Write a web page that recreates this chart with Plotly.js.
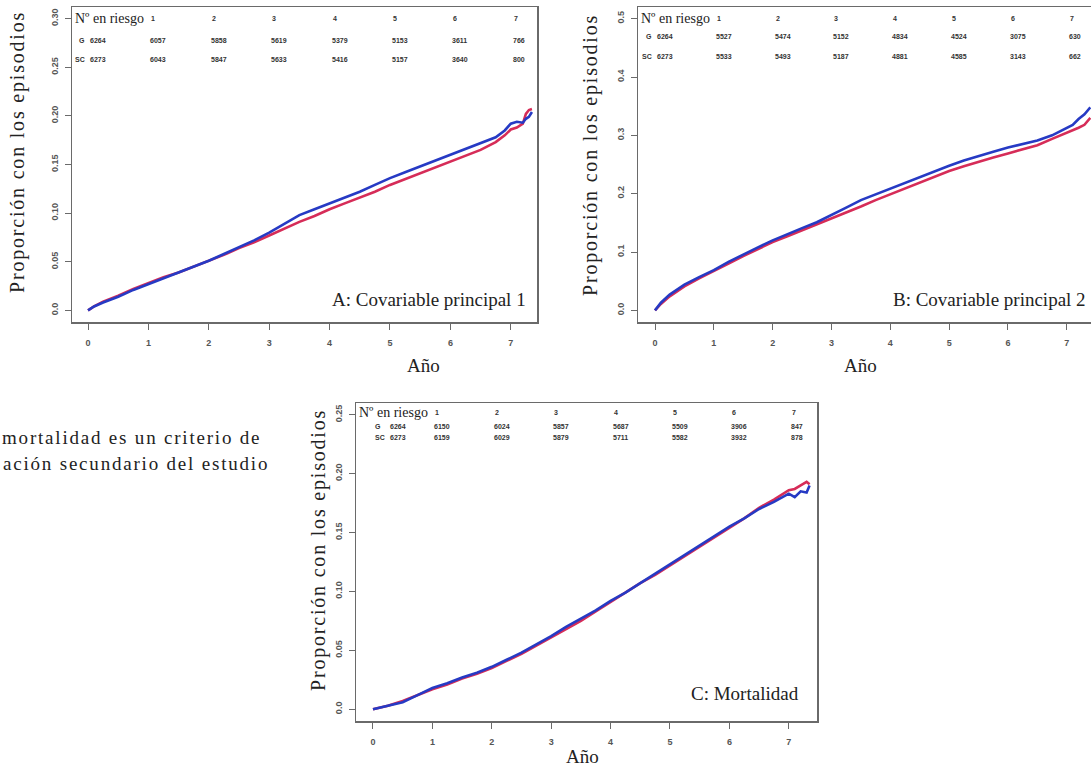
<!DOCTYPE html>
<html>
<head>
<meta charset="utf-8">
<script src="https://cdn.plot.ly/plotly-3.0.1.min.js"></script>
<style>
html,body{margin:0;padding:0;overflow:hidden;background:#fff;}
#plot{width:1112px;height:766px;}
text[style*=", serif"]{letter-spacing:1.8px;}
</style>
</head>
<body>
<div id="plot"></div>
<script>
// ---------- DATA ----------
const tA = [0,0.1,0.25,0.5,0.75,1,1.25,1.5,1.75,2,2.25,2.5,2.75,3,3.25,3.5,3.75,4,4.25,4.5,4.75,5,5.25,5.5,5.75,6,6.25,6.5,6.75,6.9,7.0,7.1,7.2,7.25,7.3,7.35];
const aBlue = [0,0.004,0.008,0.014,0.021,0.027,0.033,0.039,0.045,0.051,0.058,0.065,0.072,0.080,0.089,0.098,0.104,0.110,0.116,0.122,0.129,0.136,0.142,0.148,0.154,0.160,0.166,0.172,0.178,0.185,0.192,0.194,0.193,0.197,0.199,0.204];
const aRed  = [0,0.004,0.009,0.015,0.022,0.028,0.034,0.039,0.045,0.051,0.057,0.064,0.070,0.077,0.084,0.091,0.097,0.104,0.110,0.116,0.122,0.129,0.135,0.141,0.147,0.153,0.159,0.165,0.173,0.180,0.186,0.188,0.192,0.202,0.206,0.207];

const tB = [0,0.1,0.25,0.5,0.75,1,1.25,1.5,1.75,2,2.25,2.5,2.75,3,3.25,3.5,3.75,4,4.25,4.5,4.75,5,5.25,5.5,5.75,6,6.25,6.5,6.75,7,7.1,7.2,7.3,7.4];
const bBlue = [0,0.013,0.027,0.044,0.057,0.069,0.083,0.096,0.108,0.120,0.131,0.141,0.151,0.163,0.176,0.189,0.199,0.209,0.218,0.228,0.238,0.248,0.257,0.265,0.272,0.279,0.285,0.291,0.300,0.312,0.318,0.328,0.336,0.348];
const bRed  = [0,0.011,0.024,0.041,0.055,0.067,0.080,0.093,0.105,0.117,0.127,0.137,0.147,0.157,0.168,0.178,0.189,0.199,0.209,0.219,0.229,0.239,0.247,0.255,0.262,0.269,0.276,0.283,0.294,0.304,0.308,0.313,0.318,0.330];

const tC = [0,0.25,0.5,0.75,1,1.25,1.5,1.75,2,2.25,2.5,2.75,3,3.25,3.5,3.75,4,4.25,4.5,4.75,5,5.25,5.5,5.75,6,6.25,6.5,6.75,7,7.1,7.2,7.3,7.35];
const cBlue = [0,0.003,0.006,0.012,0.018,0.022,0.027,0.031,0.036,0.042,0.048,0.055,0.062,0.070,0.077,0.084,0.092,0.099,0.107,0.115,0.123,0.131,0.139,0.147,0.155,0.162,0.170,0.176,0.183,0.180,0.185,0.184,0.190];
const cRed  = [0,0.003,0.007,0.012,0.017,0.021,0.026,0.030,0.035,0.041,0.047,0.054,0.061,0.068,0.075,0.083,0.091,0.099,0.107,0.114,0.122,0.130,0.138,0.146,0.154,0.162,0.171,0.178,0.186,0.187,0.190,0.193,0.191];

const riskYears = [0,1,2,3,4,5,6,7];
const headerYears = [1,2,3,4,5,6,7];
const riskA_G  = [6264,6057,5858,5619,5379,5153,3611,766];
const riskA_SC = [6273,6043,5847,5633,5416,5157,3640,800];
const riskB_G  = [6264,5527,5474,5152,4834,4524,3075,630];
const riskB_SC = [6273,5533,5493,5187,4881,4585,3143,662];
const riskC_G  = [6264,6150,6024,5857,5687,5509,3906,847];
const riskC_SC = [6273,6159,6029,5879,5711,5582,3932,878];

const xTickVals = [0,1,2,3,4,5,6,7];
const xTickText = ['0','1','2','3','4','5','6','7'];
const yTickValsA = [0,0.05,0.10,0.15,0.20,0.25,0.30];
const yTickTextA = ['0.0','0.05','0.10','0.15','0.20','0.25','0.30'];
const yTickValsB = [0,0.1,0.2,0.3,0.4,0.5];
const yTickTextB = ['0.0','0.1','0.2','0.3','0.4','0.5'];
const yTickValsC = [0,0.05,0.10,0.15,0.20,0.25];
const yTickTextC = ['0.0','0.05','0.10','0.15','0.20','0.25'];

const panelLabels = ['A: Covariable principal 1','B: Covariable principal 2','C: Mortalidad'];
const yTitle = 'Proporción con los episodios';
const xTitle = 'Año';
const riskHeader = 'Nº en riesgo';
const sideText = ['mortalidad es un criterio de','ación secundario del estudio'];
const groupNames = ['G','SC'];

// ---------- LAYOUT ----------
const W = 1112, H = 766;
const px = x => x / W;
const py = y => 1 - y / H;

const BLUE = 'rgb(38,58,196)';
const RED = 'rgb(214,44,88)';
const serif = 'Liberation Serif';
const serifSpaced = 'Liberation Serif, serif';
const sans = 'Liberation Sans';

function mkTrace(x, y, color, name, xa, ya) {
  return {x: x, y: y, type: 'scatter', mode: 'lines', name: name,
    line: {color: color, width: 2.6}, xaxis: xa, yaxis: ya, hoverinfo: 'skip'};
}
const data = [
  mkTrace(tA, aRed, RED, 'SC', 'x', 'y'),
  mkTrace(tA, aBlue, BLUE, 'G', 'x', 'y'),
  mkTrace(tB, bRed, RED, 'SC', 'x2', 'y2'),
  mkTrace(tB, bBlue, BLUE, 'G', 'x2', 'y2'),
  mkTrace(tC, cRed, RED, 'SC', 'x3', 'y3'),
  mkTrace(tC, cBlue, BLUE, 'G', 'x3', 'y3')
];

const tickFont = {family: sans, size: 9, color: '#555', weight: 'bold'};
function xax(dom, range, anchor) {
  return {domain: dom, range: range, anchor: anchor, tickmode: 'array', tickvals: xTickVals, ticktext: xTickText,
    showline: true, mirror: true, linecolor: '#6a6a6a', linewidth: 1.5, ticks: 'outside', ticklen: 6,
    tickcolor: '#6a6a6a', tickwidth: 1, tickfont: tickFont, ticklabelstandoff: 6,
    showgrid: false, zeroline: false, fixedrange: true};
}
function yax(dom, range, anchor, vals, text) {
  return {domain: dom, range: range, anchor: anchor, tickmode: 'array', tickvals: vals, ticktext: text,
    tickangle: -90, showline: true, mirror: true, linecolor: '#6a6a6a', linewidth: 1.5, ticks: 'outside', ticklen: 6,
    tickcolor: '#6a6a6a', tickwidth: 1, tickfont: tickFont, ticklabelstandoff: 3,
    showgrid: false, zeroline: false, fixedrange: true};
}

const annotations = [];
function ann(o) { annotations.push(Object.assign({showarrow: false, xanchor: 'left', yanchor: 'middle'}, o)); }

// axis titles & panel labels
const yTitles = [[17, 152], [590, 155], [318, 550]];
yTitles.forEach(p => ann({xref: 'paper', yref: 'paper', x: px(p[0]), y: py(p[1]), xanchor: 'center', text: yTitle,
  textangle: -90, font: {family: serifSpaced, size: 20, color: '#222'}}));
const xTitles = [[423, 365], [860, 365], [582, 756]];
xTitles.forEach(p => ann({xref: 'paper', yref: 'paper', x: px(p[0]), y: py(p[1]), xanchor: 'center', text: xTitle,
  font: {family: serif, size: 19, color: '#222'}}));
const labelPos = [[528, 299], [1088, 299], [801, 693]];
labelPos.forEach((p, i) => ann({xref: 'paper', yref: 'paper', x: px(p[0]), y: py(p[1]), xanchor: 'right', text: panelLabels[i],
  font: {family: serif, size: 19, color: '#222'}}));

// side paragraph fragment
ann({xref: 'paper', yref: 'paper', x: px(0), y: py(437), text: sideText[0], font: {family: serifSpaced, size: 19, color: '#222'}});
ann({xref: 'paper', yref: 'paper', x: px(1), y: py(463), text: sideText[1], font: {family: serifSpaced, size: 19, color: '#222'}});

// risk tables
const smallFont = {family: sans, size: 7, color: '#333', weight: 'bold'};
function riskTable(xa, yHead, yG, ySC, G, SC, firstShift, labelAtZero, boxLeftPx) {
  ann({xref: 'paper', yref: 'paper', x: px(boxLeftPx), y: py(yHead), text: riskHeader,
    font: {family: serif, size: 14, color: '#222'}});
  headerYears.forEach(yr => ann({xref: xa, yref: 'paper', x: yr, y: py(yHead), text: String(yr), font: smallFont, xshift: 1}));
  [[yG, G, groupNames[0]], [ySC, SC, groupNames[1]]].forEach(row => {
    if (labelAtZero) ann({xref: xa, yref: 'paper', x: 0, y: py(row[0]), text: row[2], font: smallFont});
    else ann({xref: xa, yref: 'paper', x: 0, y: py(row[0]), xanchor: 'right', text: row[2], font: smallFont, xshift: -1});
    row[1].forEach((v, i) => ann({xref: xa, yref: 'paper', x: riskYears[i], y: py(row[0]), text: String(v), font: smallFont,
      xshift: i === 0 ? firstShift : 0}));
  });
}
riskTable('x', 18, 40, 59, riskA_G, riskA_SC, 0, false, 73);
riskTable('x2', 18, 37, 56, riskB_G, riskB_SC, 0, false, 639);
riskTable('x3', 412, 426, 437, riskC_G, riskC_SC, 15, true, 357);

const layout = {
  width: W, height: H, margin: {l: 0, r: 0, t: 0, b: 0}, showlegend: false,
  paper_bgcolor: '#fff', plot_bgcolor: '#fff',
  xaxis: xax([px(72), px(537)], [-0.265, 7.434], 'y'),
  yaxis: yax([py(322), py(7)], [-0.012, 0.312], 'x', yTickValsA, yTickTextA),
  xaxis2: xax([px(638), px(1108)], [-0.289, 7.70], 'y2'),
  yaxis2: yax([py(322), py(7)], [-0.02, 0.52], 'x2', yTickValsB, yTickTextB),
  xaxis3: xax([px(356), px(817)], [-0.286, 7.475], 'y3'),
  yaxis3: yax([py(721), py(403)], [-0.01, 0.26], 'x3', yTickValsC, yTickTextC),
  annotations: annotations
};

Plotly.newPlot('plot', data, layout, {displayModeBar: false, staticPlot: true});
</script>
</body>
</html>
